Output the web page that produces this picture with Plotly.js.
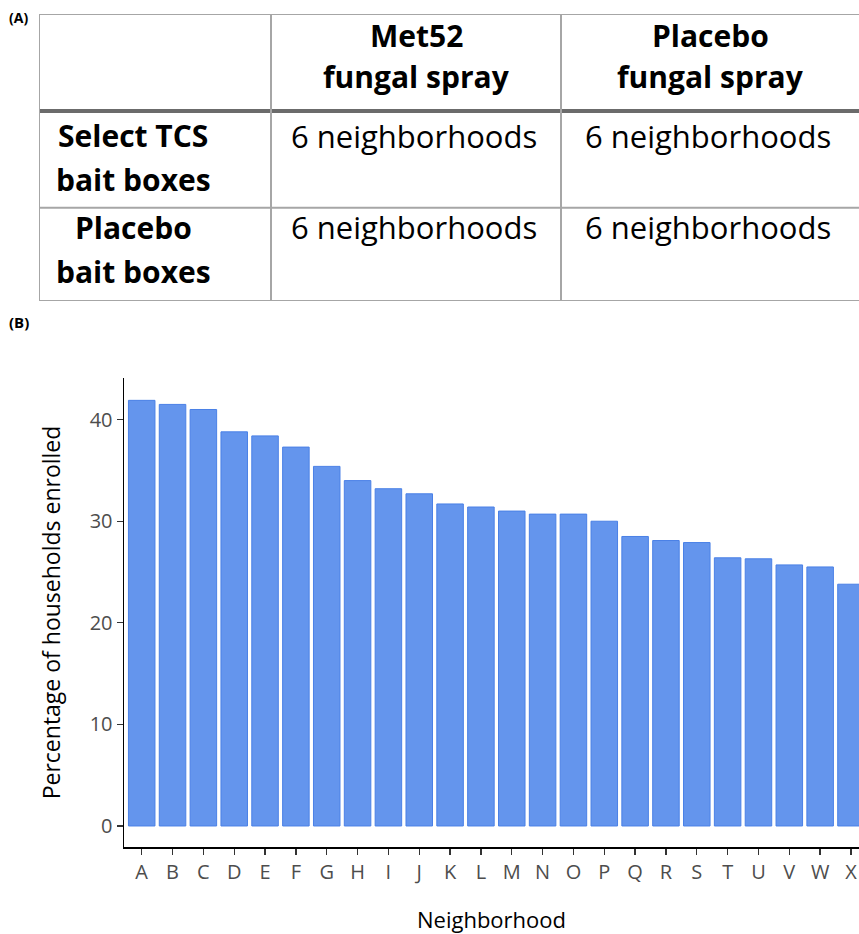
<!DOCTYPE html>
<html>
<head>
<meta charset="utf-8">
<script src="https://cdn.plot.ly/plotly-3.0.1.min.js"></script>
<style>html,body{margin:0;padding:0;background:#fff;}#chart{width:859px;height:934px;}</style>
</head>
<body>
<div id="chart"></div>
<script>
// ---- Panel (A) table content ----
const tableColHeaders = ["", "Met52\nfungal spray", "Placebo\nfungal spray"];
const tableRowHeaders = ["Select TCS\nbait boxes", "Placebo\nbait boxes"];
const tableCells = [
  ["6 neighborhoods", "6 neighborhoods"],
  ["6 neighborhoods", "6 neighborhoods"]
];

// ---- Panel (B) bar chart data ----
const neighborhoods = ["A","B","C","D","E","F","G","H","I","J","K","L","M","N","O","P","Q","R","S","T","U","V","W","X"];
const pctEnrolled = [41.9, 41.5, 41.0, 38.8, 38.4, 37.3, 35.4, 34.0, 33.2, 32.7, 31.7, 31.4, 31.0, 30.7, 30.7, 30.0, 28.5, 28.1, 27.9, 26.4, 26.3, 25.7, 25.5, 23.8];
const yTicks = [0, 10, 20, 30, 40];

// ---- layout geometry (pixels) ----
const W = 859, H = 934;
const colWidths = [232, 290, 298];
const rowHeights = [97, 96.7, 93.3];
const lineOffsets = [[21, 62], [24.5, 68.5], [19.5, 63.5]];
const colEdges = [0]; colWidths.forEach(w => colEdges.push(colEdges[colEdges.length-1] + w));
const rowEdges = [0]; rowHeights.forEach(h => rowEdges.push(rowEdges[rowEdges.length-1] + h));
const tblW = colEdges[colEdges.length-1], tblH = rowEdges[rowEdges.length-1];

const font = "'Open Sans', 'DejaVu Sans', sans-serif";
const gridCol = "#a6a6a6";

const shapes = [];
function ln(x0,y0,x1,y1,color,width){
  shapes.push({type:"line", xref:"x2", yref:"y2", x0, y0, x1, y1, line:{color, width}, layer:"above"});
}
ln(0, 0, tblW, 0, gridCol, 2);
ln(0, rowEdges[1], tblW, rowEdges[1], "#6b6b6b", 4);
ln(0, rowEdges[2], tblW, rowEdges[2], gridCol, 2);
ln(0, rowEdges[3], tblW, rowEdges[3], gridCol, 2);
for (let i = 0; i < colEdges.length-1; i++) ln(colEdges[i], 0, colEdges[i], tblH, gridCol, 2);

const annotations = [];
function cellText(txt, xc, row, bold){
  txt.split("\n").forEach((t, k) => {
    annotations.push({xref:"x2", yref:"y2", x: xc, y: rowEdges[row] + lineOffsets[row][k],
      text: bold ? "<b>"+t+"</b>" : t, showarrow:false, xanchor:"center", yanchor:"middle",
      font:{family:font, size: bold ? 30 : 31, color:"#000"}});
  });
}
for (let c = 1; c < tableColHeaders.length; c++) {
  cellText(tableColHeaders[c], (colEdges[c]+colEdges[c+1])/2, 0, true);
}
for (let r = 0; r < tableRowHeaders.length; r++) {
  cellText(tableRowHeaders[r], 94, r+1, true);
  for (let c = 0; c < tableCells[r].length; c++) {
    cellText(tableCells[r][c], (colEdges[c+1]+colEdges[c+2])/2 - 2, r+1, false);
  }
}
annotations.push({xref:"paper", yref:"paper", x: 7/W, y: 1-17/H, text:"<b>(A)</b>", showarrow:false,
  xanchor:"left", yanchor:"middle", font:{family:font, size:14, color:"#000"}});
annotations.push({xref:"paper", yref:"paper", x: 7/W, y: 1-322/H, text:"<b>(B)</b>", showarrow:false,
  xanchor:"left", yanchor:"middle", font:{family:font, size:15, color:"#000"}});

const trace = {
  type: "bar", x: neighborhoods, y: pctEnrolled,
  marker: {color: "#6495ED", line: {color: "#4A80E6", width: 1}},
  hoverinfo: "x+y"
};

const layout = {
  width: W, height: H,
  margin: {l:0, r:0, t:0, b:0},
  paper_bgcolor: "#fff", plot_bgcolor: "#fff",
  showlegend: false,
  bargap: 0.14,
  font: {family: font},
  xaxis: {
    domain: [124/W, 1], range: [-0.574, 23.26], type: "category",
    showline: true, linecolor: "#000", linewidth: 1.5,
    ticks: "outside", ticklen: 6, tickcolor: "#333", tickwidth: 1.3,
    showgrid: false, zeroline: false,
    tickfont: {family: font, size: 20, color: "#4d4d4d"},
    title: {text: "Neighborhood", font: {family: font, size: 22, color: "#000"}, standoff: 32},
    automargin: false, fixedrange: true
  },
  yaxis: {
    domain: [(H-847)/H, (H-378)/H], range: [-2.07, 44.1],
    tickvals: yTicks, ticktext: yTicks.map(String),
    showline: true, linecolor: "#000", linewidth: 1.5,
    ticks: "outside", ticklen: 6, tickcolor: "#333", tickwidth: 1.3,
    showgrid: false, zeroline: false,
    tickfont: {family: font, size: 20, color: "#4d4d4d"},
    title: {text: "Percentage of households enrolled", font: {family: font, size: 23, color: "#000"}, standoff: 22},
    automargin: false, fixedrange: true
  },
  xaxis2: {domain: [39/W, 1], range: [0, tblW], visible: false, showgrid:false, zeroline:false, fixedrange:true, anchor:"y2"},
  yaxis2: {domain: [1-301/H, 1-14/H], range: [tblH, 0], visible: false, showgrid:false, zeroline:false, fixedrange:true, anchor:"x2"},
  shapes, annotations
};

const tblTrace = {type:"scatter", x:[0, tblW], y:[0, tblH], xaxis:"x2", yaxis:"y2", mode:"markers",
  marker:{opacity:0}, hoverinfo:"skip", showlegend:false};

Plotly.newPlot("chart", [trace, tblTrace], layout, {displayModeBar:false, staticPlot:true});
</script>
</body>
</html>
